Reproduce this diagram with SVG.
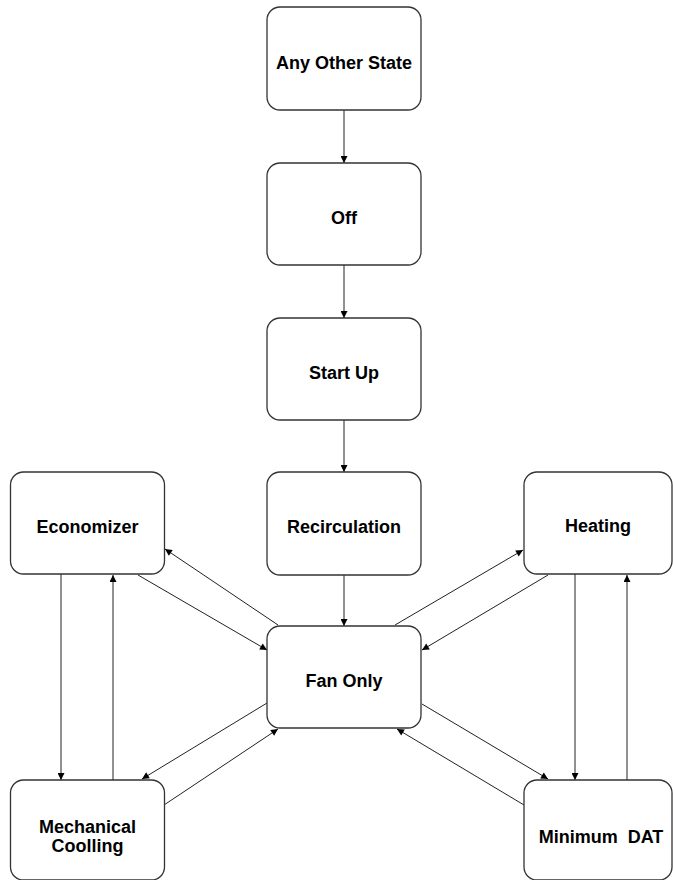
<svg xmlns="http://www.w3.org/2000/svg" width="673" height="880" viewBox="0 0 673 880">
<defs>
<marker id="ah" viewBox="0 0 10 10" refX="10" refY="5" markerWidth="9" markerHeight="7" markerUnits="userSpaceOnUse" orient="auto">
<path d="M0,0 L10,5 L0,10 z" fill="#000"/>
</marker>
<style>
.box{fill:#fff;stroke:#333;stroke-width:1.3}
.lbl{font-family:"Liberation Sans",Arial,sans-serif;font-weight:bold;font-size:18px;fill:#000;text-anchor:middle}
.c{fill:none;stroke:#222;stroke-width:1;marker-end:url(#ah)}
</style>
</defs>
<rect width="673" height="880" fill="#fff"/>
<g id="connectors">
<line class="c" x1="344" y1="110" x2="344" y2="163"/>
<line class="c" x1="344" y1="265" x2="344" y2="318"/>
<line class="c" x1="344" y1="420" x2="344" y2="472"/>
<line class="c" x1="344" y1="575" x2="344" y2="626"/>
<line class="c" x1="61" y1="574" x2="61" y2="780"/>
<line class="c" x1="113" y1="780" x2="113" y2="575"/>
<line class="c" x1="575" y1="574" x2="575" y2="780"/>
<line class="c" x1="627" y1="780" x2="627" y2="575"/>
<line class="c" x1="278" y1="625" x2="165" y2="549"/>
<line class="c" x1="138" y1="575" x2="267" y2="650"/>
<line class="c" x1="395" y1="625" x2="523" y2="550"/>
<line class="c" x1="548" y1="575" x2="422" y2="650"/>
<line class="c" x1="267" y1="703" x2="142" y2="779"/>
<line class="c" x1="164" y1="805" x2="278" y2="729"/>
<line class="c" x1="422" y1="704" x2="548" y2="779"/>
<line class="c" x1="524" y1="805" x2="397" y2="729"/>
</g>
<g id="any-other-state"><rect class="box" x="267" y="7" width="154" height="103" rx="13"/><text class="lbl" x="344" y="69">Any Other State</text></g>
<g id="off"><rect class="box" x="267" y="163" width="154" height="102" rx="13"/><text class="lbl" x="344" y="224">Off</text></g>
<g id="start-up"><rect class="box" x="267" y="318" width="154" height="102" rx="13"/><text class="lbl" x="344" y="379">Start Up</text></g>
<g id="recirculation"><rect class="box" x="267" y="472" width="154" height="103" rx="13"/><text class="lbl" x="344" y="533">Recirculation</text></g>
<g id="economizer"><rect class="box" x="10.5" y="472" width="154" height="102" rx="13"/><text class="lbl" x="87.5" y="533">Economizer</text></g>
<g id="heating"><rect class="box" x="524" y="472" width="148" height="102" rx="13"/><text class="lbl" x="598" y="532">Heating</text></g>
<g id="fan-only"><rect class="box" x="267" y="626" width="154" height="102" rx="13"/><text class="lbl" x="344" y="687">Fan Only</text></g>
<g id="mechanical-coolling"><rect class="box" x="10.5" y="780" width="154" height="100" rx="13"/><text class="lbl" x="87.5" y="833">Mechanical</text><text class="lbl" x="87.5" y="852">Coolling</text></g>
<g id="minimum-dat"><rect class="box" x="524" y="780" width="148" height="100" rx="13"/><text class="lbl" x="601" y="843" xml:space="preserve">Minimum  DAT</text></g>
</svg>
